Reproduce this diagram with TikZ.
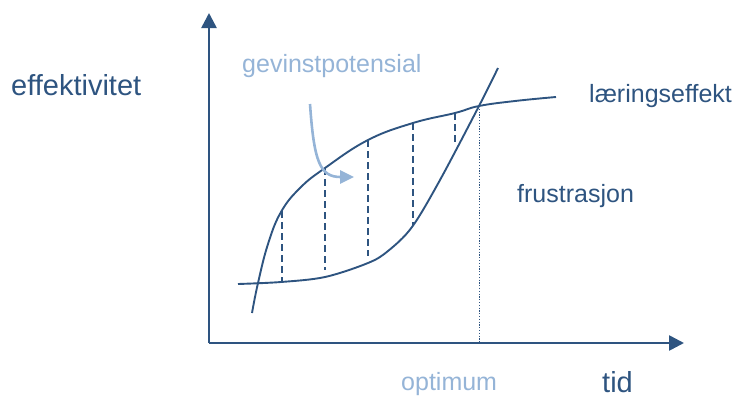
\documentclass[tikz,border=0pt]{standalone}
\usepackage{fontspec}
\setmainfont{Liberation Sans}
\usetikzlibrary{arrows.meta}
\definecolor{darkblue}{RGB}{46,84,128}
\definecolor{lightblue}{RGB}{149,180,215}
\tikzset{
  axis/.style={draw=darkblue, line width=2.6pt, -{Triangle[length=15pt,width=15pt]}},
  curve/.style={draw=darkblue, line width=1.9pt},
  gap/.style={draw=darkblue, line width=1.8pt, dash pattern=on 7pt off 4pt},
  optline/.style={draw=darkblue, line width=0.9pt, dash pattern=on 1.2pt off 1.6pt},
  hint/.style={draw=lightblue, line width=2.6pt, -{Triangle[length=14pt,width=13pt]}},
  lbl/.style={inner sep=0pt, anchor=base west, text=darkblue, font=\fontsize{25}{28}\selectfont},
  biglbl/.style={lbl, font=\fontsize{29}{32}\selectfont},
  lightlbl/.style={lbl, text=lightblue}
}
\begin{document}
\begin{tikzpicture}[x=1pt,y=-1pt]
\useasboundingbox (0,0) rectangle (736,397);
% axes
\coordinate (origin) at (209,343);
\coordinate (ytip) at (209,13);
\coordinate (xtip) at (684,343);
\draw[axis] (origin) -- (ytip);
\draw[axis] (origin) -- (xtip);
% curves
\draw[curve] plot[smooth, tension=0.7] coordinates {(252,313) (258,283) (268,244) (281,212) (300,188) (325,168) (368,140) (413,123) (455,113) (479,106) (515,101) (556,97)};
\draw[curve] plot[smooth, tension=0.55] coordinates {(238,284) (281,282) (325,277) (368,263) (388,251) (412,227) (440,180) (479,106) (498,68)};
% gain lines
\coordinate (a1) at (282,211); \coordinate (b1) at (282,282);
\coordinate (a2) at (325,168); \coordinate (b2) at (325,270);
\coordinate (a3) at (368,140); \coordinate (b3) at (368,256);
\coordinate (a4) at (413,123); \coordinate (b4) at (413,226);
\coordinate (a5) at (455,113); \coordinate (b5) at (455,142);
\draw[gap] (a1) -- (b1);
\draw[gap] (a2) -- (b2);
\draw[gap] (a3) -- (b3);
\draw[gap] (a4) -- (b4);
\draw[gap] (a5) -- (b5);
% optimum
\coordinate (opt) at (479,106);
\coordinate (optbase) at (479,343);
\draw[optline] (opt) -- (optbase);
% hint arrow
\coordinate (hs) at (310,104);
\coordinate (he) at (354,177);
\draw[hint] (hs) .. controls (314,162) and (320,177) .. (he);
% labels
\node[biglbl] (yl) at (11,95) {effektivitet};
\node[lightlbl] (gp) at (242,72) {gevinstpotensial};
\node[lbl] (le) at (589,102) {læringseffekt};
\node[lbl] (fr) at (517,202) {frustrasjon};
\node[lightlbl] (op) at (401,390) {optimum};
\node[biglbl] (xl) at (602,392) {tid};
\end{tikzpicture}
\end{document}
